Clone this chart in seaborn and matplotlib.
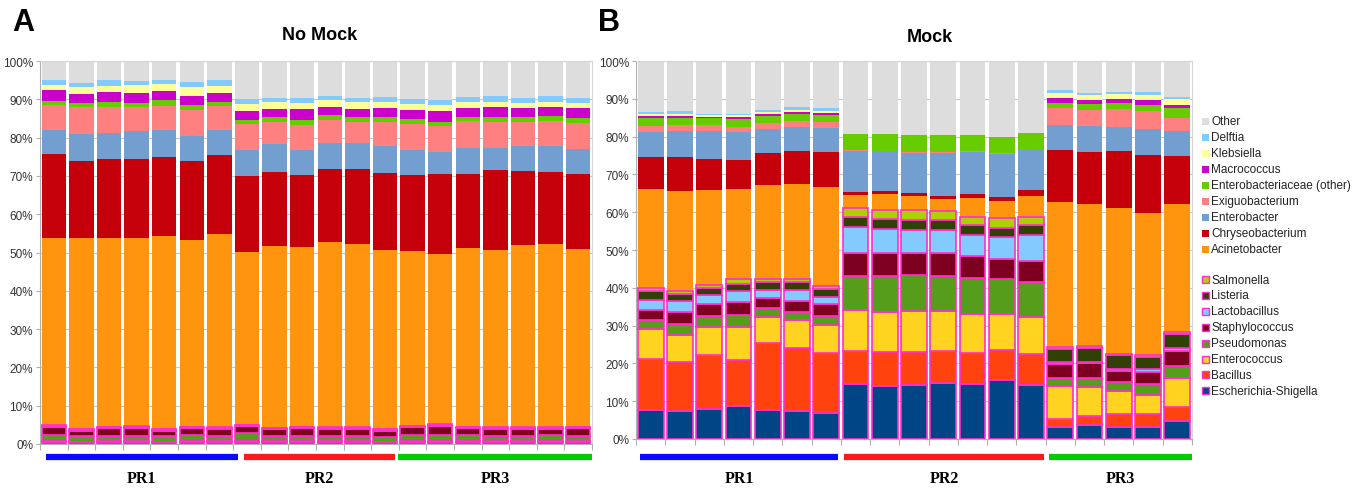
import numpy as np
import matplotlib.pyplot as plt
import seaborn as sns
from matplotlib.patches import Rectangle
from matplotlib.transforms import blended_transform_factory

sns.set_style("white")
plt.rcParams['font.family'] = ['Liberation Sans', 'DejaVu Sans']

# taxa, bottom to top of each stack
mock_taxa = ["Escherichia-Shigella", "Bacillus", "Enterococcus", "Pseudomonas",
             "Staphylococcus", "Lactobacillus", "Listeria", "Salmonella"]
env_taxa = ["Acinetobacter", "Chryseobacterium", "Enterobacter", "Exiguobacterium",
            "Enterobacteriaceae (other)", "Macrococcus", "Klebsiella", "Delftia", "Other"]

colors = {
    "Escherichia-Shigella": "#004586", "Bacillus": "#ff420e", "Enterococcus": "#ffd320",
    "Pseudomonas": "#579d1c", "Staphylococcus": "#7e0021", "Lactobacillus": "#83caff",
    "Listeria": "#314004", "Salmonella": "#aecf00",
    "Acinetobacter": "#ff950e", "Chryseobacterium": "#c5000b", "Enterobacter": "#729fcf",
    "Exiguobacterium": "#ff8080", "Enterobacteriaceae (other)": "#66cc00",
    "Macrococcus": "#cc00cc", "Klebsiella": "#ffff99", "Delftia": "#83caff",
    "Other": "#dddddd",
}
mock_edge = "#ff2ecc"

groups = ["PR1", "PR2", "PR3"]
group_colors = ["#0a0aff", "#ff1a1a", "#00cc00"]
a_group_sizes = [7, 6, 7]
b_group_sizes = [7, 7, 5]

# ---- Panel A: No Mock (percent per sample) ----
a_escherichia = [0.5, 0.4, 0.5, 0.5, 0.4, 0.5, 0.5, 0.6, 0.5, 0.5, 0.5, 0.5, 0.4, 0.5, 0.5, 0.5, 0.5, 0.5, 0.5, 0.5]
a_bacillus = [0.1, 0.1, 0.1, 0.1, 0.1, 0.1, 0.1, 0.1, 0.1, 0.1, 0.1, 0.1, 0.1, 0.1, 0.1, 0.1, 0.1, 0.1, 0.1, 0.1]
a_enterococcus = [0.1, 0.1, 0.1, 0.1, 0.1, 0.1, 0.1, 0.1, 0.1, 0.1, 0.1, 0.1, 0.1, 0.1, 0.1, 0.1, 0.1, 0.1, 0.1, 0.1]
a_pseudomonas = [1.6, 1.4, 1.5, 1.5, 1.5, 1.6, 1.5, 2.0, 1.5, 1.5, 1.5, 1.5, 1.3, 1.6, 1.6, 1.6, 1.5, 1.5, 1.6, 1.5]
a_staphylococcus = [2.2, 1.5, 1.9, 2.0, 1.4, 1.8, 1.8, 1.8, 1.6, 1.9, 1.8, 1.8, 1.6, 2.1, 2.4, 1.8, 1.8, 1.8, 1.7, 1.9]
a_lactobacillus = [0.1, 0.1, 0.1, 0.1, 0.1, 0.1, 0.1, 0.1, 0.1, 0.1, 0.1, 0.1, 0.1, 0.1, 0.1, 0.1, 0.1, 0.1, 0.1, 0.1]
a_listeria = [0.2, 0.2, 0.2, 0.2, 0.2, 0.2, 0.2, 0.2, 0.2, 0.2, 0.2, 0.2, 0.2, 0.2, 0.2, 0.2, 0.2, 0.2, 0.2, 0.2]
a_salmonella = [0.1, 0.1, 0.1, 0.1, 0.1, 0.1, 0.1, 0.1, 0.1, 0.1, 0.1, 0.1, 0.1, 0.1, 0.1, 0.1, 0.1, 0.1, 0.1, 0.1]
a_acinetobacter = [48.9, 50.0, 49.3, 49.3, 50.4, 48.8, 50.5, 45.1, 47.6, 46.9, 48.4, 47.8, 46.8, 45.7, 44.6, 46.7, 46.2, 47.5, 47.7, 46.5]
a_chryseobacterium = [21.8, 20.0, 20.6, 20.6, 20.7, 20.5, 20.5, 20.0, 19.2, 18.9, 19.1, 19.5, 20.0, 19.8, 20.9, 19.4, 21.0, 19.4, 18.9, 19.6]
a_enterobacter = [6.3, 7.0, 6.9, 7.1, 7.1, 6.7, 6.6, 6.7, 7.2, 6.5, 6.8, 6.8, 7.1, 6.5, 5.7, 6.8, 5.8, 6.4, 6.9, 6.5]
a_exiguobacterium = [6.5, 7.0, 6.7, 6.4, 6.2, 6.6, 6.2, 6.7, 5.9, 6.6, 5.9, 5.6, 6.2, 6.8, 6.7, 6.9, 6.6, 6.4, 6.5, 6.7]
a_enterobacteriaceae = [1.2, 1.1, 1.3, 1.1, 1.6, 1.4, 1.1, 1.2, 1.3, 1.2, 1.3, 1.3, 1.3, 1.3, 1.1, 1.2, 1.5, 1.4, 1.2, 1.2]
a_macrococcus = [2.8, 2.5, 2.5, 2.6, 2.3, 2.4, 2.3, 2.3, 2.0, 2.8, 2.1, 2.0, 2.3, 2.3, 2.8, 2.2, 2.5, 2.1, 2.3, 2.6]
a_klebsiella = [1.4, 1.6, 1.7, 2.0, 1.8, 2.2, 1.8, 1.7, 1.9, 1.7, 1.7, 1.9, 1.8, 1.6, 1.5, 1.5, 1.4, 1.5, 1.5, 1.5]
a_delftia = [1.2, 1.2, 1.5, 1.1, 1.1, 1.3, 1.6, 1.5, 1.1, 1.3, 1.1, 1.1, 1.3, 1.3, 1.4, 1.3, 1.4, 1.2, 1.4, 1.2]
a_other = [5.0, 5.6, 5.0, 5.2, 4.8, 5.6, 5.0, 9.9, 9.6, 9.6, 9.2, 9.6, 9.2, 9.9, 10.2, 9.5, 9.2, 9.7, 9.2, 9.7]

# ---- Panel B: Mock ----
b_escherichia = [7.8, 7.4, 8.0, 8.6, 7.7, 7.3, 7.0, 14.5, 14.0, 14.4, 14.7, 14.6, 15.6, 14.2, 3.1, 3.7, 3.1, 3.3, 4.8]
b_bacillus = [13.4, 13.0, 14.1, 12.4, 17.8, 16.8, 15.8, 8.9, 9.1, 8.6, 8.6, 8.2, 8.0, 8.2, 2.3, 2.5, 3.5, 3.2, 3.6]
b_enterococcus = [7.8, 7.2, 7.5, 8.6, 6.8, 7.5, 7.4, 10.8, 10.6, 10.8, 10.5, 10.2, 9.6, 9.8, 8.5, 7.5, 6.1, 5.2, 7.8]
b_pseudomonas = [2.5, 2.7, 2.9, 3.1, 2.3, 2.1, 2.3, 8.9, 9.4, 9.7, 9.2, 9.7, 9.0, 9.3, 2.3, 2.5, 2.4, 2.9, 3.0]
b_staphylococcus = [2.7, 3.3, 3.2, 3.5, 2.8, 2.9, 3.1, 6.1, 6.0, 5.6, 6.1, 5.7, 5.5, 5.7, 3.7, 3.8, 2.8, 3.2, 4.2]
b_lactobacillus = [2.6, 2.8, 2.3, 3.0, 2.0, 2.9, 1.9, 6.8, 6.4, 6.2, 6.3, 5.6, 5.7, 6.9, 0.5, 0.5, 0.6, 0.8, 0.7]
b_listeria = [2.3, 1.9, 1.9, 1.9, 2.1, 2.0, 2.2, 2.7, 2.7, 2.6, 2.5, 2.6, 2.5, 2.5, 3.5, 3.6, 3.6, 3.1, 3.7]
b_salmonella = [0.8, 0.9, 0.9, 1.2, 0.8, 0.7, 0.9, 2.3, 2.4, 2.6, 2.4, 2.2, 2.5, 2.1, 0.4, 0.6, 0.5, 0.4, 0.6]
b_acinetobacter = [26.2, 26.4, 25.1, 23.9, 25.0, 25.2, 26.0, 3.5, 4.1, 3.8, 3.3, 5.0, 4.5, 5.6, 38.3, 37.6, 38.6, 37.8, 33.7]
b_chryseobacterium = [8.4, 8.9, 8.1, 7.5, 8.3, 8.8, 9.3, 0.9, 0.9, 0.9, 0.6, 1.0, 1.1, 1.5, 13.9, 13.5, 14.9, 15.2, 12.8]
b_enterobacter = [6.6, 6.9, 7.5, 7.4, 6.4, 6.4, 6.3, 10.8, 10.2, 10.5, 11.5, 11.1, 11.5, 10.8, 6.6, 6.9, 6.5, 6.8, 6.6]
b_exiguobacterium = [1.7, 1.7, 1.6, 1.5, 1.6, 1.6, 1.6, 0.2, 0.2, 0.2, 0.2, 0.2, 0.2, 0.2, 4.4, 4.3, 4.7, 4.9, 3.3]
b_enterobacteriaceae = [2.0, 1.9, 1.8, 2.1, 1.8, 1.9, 1.9, 4.2, 4.6, 4.5, 4.5, 4.3, 4.3, 4.1, 1.4, 1.5, 1.5, 1.6, 2.7]
b_macrococcus = [0.7, 0.5, 0.4, 0.6, 0.6, 0.4, 0.6, 0, 0, 0, 0, 0, 0, 0, 1.2, 1.2, 1.2, 1.3, 0.8]
b_klebsiella = [0.6, 0.6, 0.5, 0.5, 0.5, 0.6, 0.6, 0, 0, 0, 0, 0, 0, 0, 1.5, 1.2, 1.2, 1.2, 1.6]
b_delftia = [0.5, 0.8, 0.3, 0.3, 0.5, 0.6, 0.6, 0, 0, 0, 0, 0, 0, 0, 0.8, 0.7, 0.7, 0.8, 0.6]
b_other = [13.4, 13.1, 13.9, 13.9, 13.0, 12.3, 12.5, 19.4, 19.4, 19.6, 19.6, 19.6, 20.0, 19.1, 7.6, 8.4, 8.1, 8.3, 9.5]

a_mock = [a_escherichia, a_bacillus, a_enterococcus, a_pseudomonas,
          a_staphylococcus, a_lactobacillus, a_listeria, a_salmonella]
a_env = [a_acinetobacter, a_chryseobacterium, a_enterobacter, a_exiguobacterium,
         a_enterobacteriaceae, a_macrococcus, a_klebsiella, a_delftia, a_other]
b_mock = [b_escherichia, b_bacillus, b_enterococcus, b_pseudomonas,
          b_staphylococcus, b_lactobacillus, b_listeria, b_salmonella]
b_env = [b_acinetobacter, b_chryseobacterium, b_enterobacter, b_exiguobacterium,
         b_enterobacteriaceae, b_macrococcus, b_klebsiella, b_delftia, b_other]

W, H = 1360, 489


def draw_panel(ax, fig, mock, env, sizes, spans):
    n = len(mock[0])
    x = np.arange(n)
    bottom = np.zeros(n)
    for name, vals in zip(mock_taxa, mock):
        vals = np.array(vals, dtype=float)
        ax.bar(x, vals, bottom=bottom, width=0.88, color=colors[name],
               edgecolor=mock_edge, linewidth=1.2, zorder=3)
        bottom += vals
    for name, vals in zip(env_taxa, env):
        vals = np.array(vals, dtype=float)
        ax.bar(x, vals, bottom=bottom, width=0.88, color=colors[name],
               linewidth=0, zorder=2)
        bottom += vals

    ax.set_xlim(-0.5, n - 0.5)
    ax.set_ylim(0, 100)
    ax.set_yticks(np.arange(0, 101, 10))
    ax.set_yticklabels([f"{v}%" for v in range(0, 101, 10)], fontsize=8.5, color="#333333")
    ax.set_xticks(np.arange(n + 1) - 0.5)
    ax.set_xticklabels([])
    ax.tick_params(axis="x", length=4, color="#b0b0b0", direction="out", bottom=True)
    ax.tick_params(axis="y", length=3, color="#b0b0b0", pad=2, left=True)
    ax.yaxis.grid(True, color="#c8c8c8", linewidth=0.8, zorder=0)
    ax.set_axisbelow(True)
    for s in ["left", "bottom"]:
        ax.spines[s].set_color("#b0b0b0")
    for s in ["top", "right"]:
        ax.spines[s].set_color("#d4d4d4")

    # sample group bars and labels under the axis
    trans = blended_transform_factory(ax.transData, fig.transFigure)
    for g, (x0, x1), c in zip(groups, spans, group_colors):
        ax.plot([x0, x1], [1 - 458 / H, 1 - 458 / H], color=c, lw=4.5,
                solid_capstyle="butt", transform=trans, clip_on=False)
        ax.text((x0 + x1) / 2, 1 - 479 / H, g, transform=trans, ha="center", va="center",
                fontsize=11.5, fontweight="bold", family="Liberation Serif", color="black")


fig = plt.figure(figsize=(W / 100, H / 100), dpi=100)
axA = fig.add_axes([40 / W, 44 / H, 552 / W, 383 / H])
axB = fig.add_axes([636 / W, 49 / H, 556 / W, 378 / H])

draw_panel(axA, fig, a_mock, a_env, a_group_sizes,
           [(-0.3, 6.68), (6.9, 12.35), (12.47, 19.5)])
draw_panel(axB, fig, b_mock, b_env, b_group_sizes,
           [(-0.36, 6.4), (6.6, 13.45), (13.6, 18.5)])

fig.text(320 / W, 1 - 35 / H, "No Mock", ha="center", va="center", fontsize=13,
         fontweight="bold", color="black")
fig.text(930 / W, 1 - 38 / H, "Mock", ha="center", va="center", fontsize=13,
         fontweight="bold", color="black")
fig.text(12 / W, 1 - 8 / H, "A", ha="left", va="top", fontsize=22, fontweight="bold", color="black")
fig.text(598 / W, 1 - 8 / H, "B", ha="left", va="top", fontsize=22, fontweight="bold", color="black")

# legend drawn as figure patches + text
sq = 7
for i, name in enumerate(env_taxa[::-1]):
    y = 122 + 16 * i
    fig.add_artist(Rectangle((1202 / W, 1 - (y + sq / 2) / H), sq / W, sq / H,
                             transform=fig.transFigure, facecolor=colors[name], edgecolor="none"))
    fig.text(1211 / W, 1 - y / H, name, va="center", ha="left", fontsize=8.5, color="#222222")
for i, name in enumerate(mock_taxa[::-1]):
    y = 280.5 + 15.9 * i
    fig.add_artist(Rectangle((1202 / W, 1 - (y + sq / 2) / H), sq / W, sq / H,
                             transform=fig.transFigure, facecolor=colors[name],
                             edgecolor=mock_edge, linewidth=1.0))
    fig.text(1211 / W, 1 - y / H, name, va="center", ha="left", fontsize=8.5, color="#222222")

fig.savefig("out.png", dpi=100, facecolor="white")
